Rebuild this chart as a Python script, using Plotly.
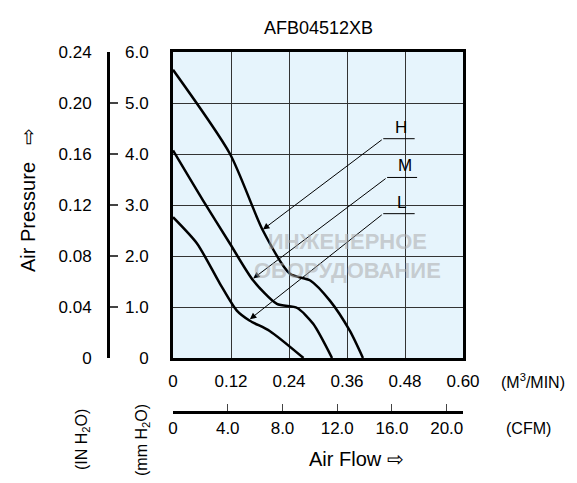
import plotly.graph_objects as go

# flow in M3/MIN, pressure in mm H2O
h_flow = [0.0, 0.118, 0.186, 0.242, 0.284, 0.325, 0.366, 0.393]
h_pres = [5.65, 4.0, 2.5, 1.65, 1.52, 1.12, 0.53, 0.0]
m_flow = [0.0, 0.062, 0.118, 0.166, 0.215, 0.257, 0.29, 0.329]
m_pres = [4.07, 3.09, 2.24, 1.52, 1.06, 0.98, 0.67, 0.0]
l_flow = [0.0, 0.05, 0.097, 0.132, 0.159, 0.2, 0.27]
l_pres = [2.76, 2.24, 1.46, 0.93, 0.73, 0.53, 0.0]

cmm_ticks = [0, 0.12, 0.24, 0.36, 0.48, 0.60]
cmm_labels = ["0", "0.12", "0.24", "0.36", "0.48", "0.60"]
cfm_ticks = [0, 4, 8, 12, 16, 20]
cfm_labels = ["0", "4.0", "8.0", "12.0", "16.0", "20.0"]
mm_ticks = [0, 1, 2, 3, 4, 5, 6]
mm_labels = ["0", "1.0", "2.0", "3.0", "4.0", "5.0", "6.0"]
in_ticks = [0, 0.04, 0.08, 0.12, 0.16, 0.20, 0.24]
in_labels = ["0", "0.04", "0.08", "0.12", "0.16", "0.20", "0.24"]

# label line (x0, x1, y) and arrow tip (x, y) for each curve
labels = ["H", "M", "L"]
label_y = [4.3, 3.54, 2.83]
label_x0 = [0.435, 0.443, 0.435]
label_x1 = [0.50, 0.505, 0.50]
tip_x = [0.186, 0.166, 0.159]
tip_y = [2.52, 1.56, 0.76]

W, H = 577, 483
OFF = 8  # page body margin
xd = [(173 - OFF) / W, (463 - OFF) / W]
yd = [1 - (358 - OFF) / H, 1 - (52 - OFF) / H]
FONT = "Liberation Sans, Arial, sans-serif"

fig = go.Figure()
for fx, fy in [(h_flow, h_pres), (m_flow, m_pres), (l_flow, l_pres)]:
    fig.add_trace(go.Scatter(x=fx, y=fy, mode="lines", line=dict(color="black", width=2.5, shape="spline", smoothing=0.7),
                             showlegend=False, hoverinfo="skip"))
# hidden traces to activate the secondary axes
fig.add_trace(go.Scatter(x=[0], y=[0], xaxis="x2", yaxis="y", mode="markers", opacity=0, showlegend=False))
fig.add_trace(go.Scatter(x=[0], y=[0], xaxis="x", yaxis="y2", mode="markers", opacity=0, showlegend=False))

for i, lab in enumerate(labels):
    fig.add_shape(type="line", x0=label_x0[i], x1=label_x1[i], y0=label_y[i], y1=label_y[i],
                  line=dict(color="black", width=1), layer="above")
    fig.add_annotation(x=tip_x[i], y=tip_y[i], ax=label_x0[i], ay=label_y[i], axref="x", ayref="y",
                       text="", showarrow=True, arrowhead=2, arrowsize=1.3, arrowwidth=1, arrowcolor="black")
    fig.add_annotation(x=(label_x0[i] + label_x1[i]) / 2 + 0.005, y=label_y[i], text=lab, showarrow=False,
                       yanchor="bottom", font=dict(size=17, color="black"))

# watermark
fig.add_annotation(x=0.36, y=2.0, text="<b>ИНЖЕНЕРНОЕ<br>ОБОРУДОВАНИЕ</b>", showarrow=False,
                   font=dict(size=22, color="rgba(170,170,170,0.55)"))

ann = [
    ("AFB04512XB", 318, 28, 0, 18),
    ("(M<sup>3</sup>/MIN)", 533, 381, 0, 16),
    ("(CFM)", 528, 428, 0, 16),
    ("Air Flow \u21e8", 356, 459, 0, 20),
    ("Air Pressure   \u21e8", 28, 200, -90, 20),
    ("(IN H<sub>2</sub>O)", 82, 440, -90, 16),
    ("(mm H<sub>2</sub>O)", 142, 440, -90, 16),
]
for t, px, py, ang, sz in ann:
    fig.add_annotation(xref="paper", yref="paper", x=(px - OFF) / W, y=1 - (py - OFF) / H, text=t,
                       xanchor="center", yanchor="middle",
                       showarrow=False, textangle=ang, font=dict(size=sz, color="black"))

fig.update_layout(
    width=W, height=H, margin=dict(l=0, r=0, t=0, b=0, autoexpand=False),
    paper_bgcolor="white", plot_bgcolor="#e6f4fc",
    font=dict(family=FONT, size=17, color="black"),
    xaxis=dict(domain=xd, range=[0, 0.6], tickvals=cmm_ticks, ticktext=cmm_labels, showgrid=True,
               gridcolor="#333", gridwidth=1, showline=True, linecolor="black", linewidth=3, mirror=True,
               ticks="", ticklabelstandoff=6, zeroline=False, automargin=False),
    yaxis=dict(domain=yd, range=[0, 6], tickvals=mm_ticks, ticktext=mm_labels, showgrid=True,
               gridcolor="#333", gridwidth=1, showline=True, linecolor="black", linewidth=3, mirror=True,
               ticks="", ticklabelstandoff=18, zeroline=False, automargin=False),
    xaxis2=dict(domain=xd, range=[0, 0.6 * 35.315], anchor="free", position=1 - (412 - OFF) / H, overlaying="x",
                side="bottom", tickvals=cfm_ticks, ticktext=cfm_labels, showline=True, linecolor="black",
                linewidth=3, ticks="inside", ticklen=7, tickwidth=1, showgrid=False, zeroline=False,
                automargin=False),
    yaxis2=dict(domain=yd, range=[0, 0.24], anchor="free", position=(108 - OFF) / W, overlaying="y", side="left",
                tickvals=in_ticks, ticktext=in_labels, showline=True, linecolor="black", linewidth=3,
                ticks="inside", ticklen=8, tickwidth=2, ticklabelstandoff=12, showgrid=False, zeroline=False,
                automargin=False),
)

fig.write_html("out.html")
